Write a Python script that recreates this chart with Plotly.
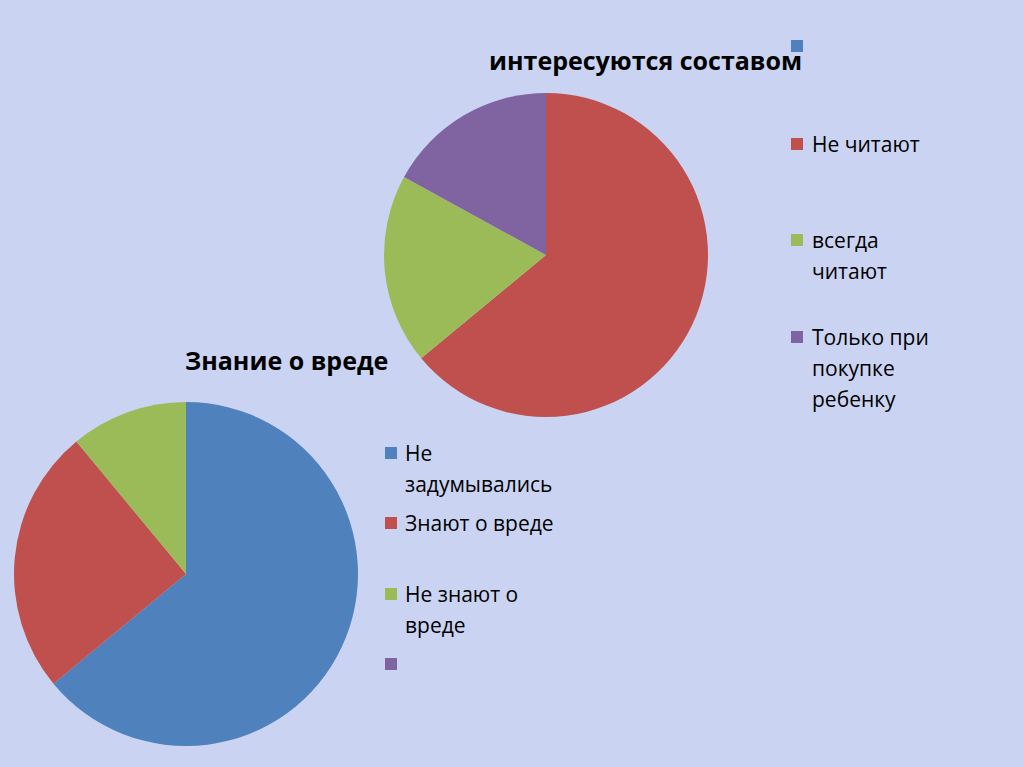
import plotly.graph_objects as go

# ---- data ----
top_title = "интересуются составом"
top_labels = ["", "Не читают", "всегда<br>читают", "Только при<br>покупке<br>ребенку"]
top_values = [0, 64, 19, 17]

bottom_title = "Знание о вреде"
bottom_labels = ["Не<br>задумывались", "Знают о вреде", "Не знают о<br>вреде", ""]
bottom_values = [64, 25, 11, 0]

colors = ["#4F81BD", "#C0504D", "#9BBB59", "#8064A2"]

W, H = 1024, 767
FONT = "Open Sans"


def px(x):
    return x / W


def py(y):
    return 1 - y / H


fig = go.Figure()

fig.add_trace(go.Pie(
    labels=[l.replace("<br>", " ") if l else " " for l in top_labels],
    values=top_values,
    marker=dict(colors=colors, line=dict(width=0)),
    sort=False, direction="clockwise", rotation=0,
    textinfo="none", showlegend=False,
    domain=dict(x=[px(384), px(708)], y=[py(417), py(93)]),
))

fig.add_trace(go.Pie(
    labels=[l.replace("<br>", " ") if l else " " for l in bottom_labels],
    values=bottom_values,
    marker=dict(colors=colors, line=dict(width=0)),
    sort=False, direction="clockwise", rotation=0,
    textinfo="none", showlegend=False,
    domain=dict(x=[px(14), px(358)], y=[py(746), py(402)]),
))

annotations = []
shapes = []

# titles
annotations.append(dict(text="<b>%s</b>" % top_title, x=px(645), y=py(60),
                        xref="paper", yref="paper", showarrow=False,
                        xanchor="center", yanchor="middle",
                        font=dict(family=FONT, size=25, color="black")))
annotations.append(dict(text="<b>%s</b>" % bottom_title, x=px(286), y=py(360),
                        xref="paper", yref="paper", showarrow=False,
                        xanchor="center", yanchor="middle",
                        font=dict(family=FONT, size=25, color="black")))


def legend(labels, marker_x, text_x, row_y, line_h):
    for lab, col, y0 in zip(labels, colors, row_y):
        shapes.append(dict(type="rect", xref="paper", yref="paper",
                           x0=px(marker_x), x1=px(marker_x + 12),
                           y0=py(y0 - 6), y1=py(y0 + 6),
                           fillcolor=col, line=dict(width=0)))
        if lab:
            for i, line in enumerate(lab.split("<br>")):
                annotations.append(dict(text=line, x=px(text_x), y=py(y0 + i * line_h),
                                        xref="paper", yref="paper", showarrow=False,
                                        xanchor="left", yanchor="middle",
                                        font=dict(family=FONT, size=21, color="black")))


legend(top_labels, 791, 810, [46, 144, 240, 337], 31)
legend(bottom_labels, 385, 403, [453, 523, 594, 664], 31)

fig.update_layout(
    width=W, height=H,
    margin=dict(l=0, r=0, t=0, b=0),
    paper_bgcolor="#cad4f2",
    plot_bgcolor="#cad4f2",
    annotations=annotations,
    shapes=shapes,
)

fig.write_html("out.html", config={"displayModeBar": False},
               post_script="document.body.style.margin='0';")
